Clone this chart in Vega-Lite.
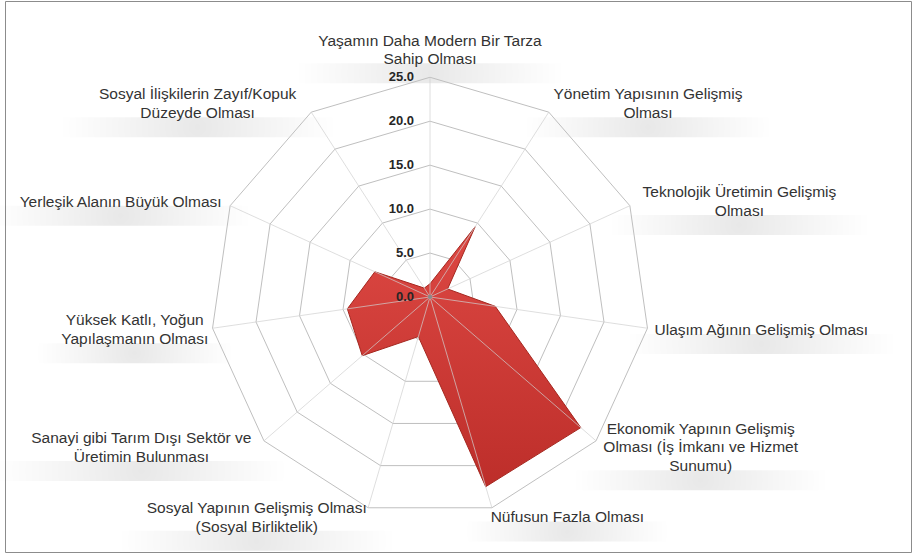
{
  "$schema": "https://vega.github.io/schema/vega-lite/v6.json",
  "width": 906,
  "height": 551,
  "autosize": {"type": "none"},
  "padding": {"left": 5, "top": 1, "right": 1, "bottom": 1},
  "background": "white",
  "view": {"stroke": "#8c8c8c", "strokeWidth": 1},
  "datasets": {
    "categories": [
      {"k": 0, "category": "Yaşamın Daha Modern Bir Tarza Sahip Olması", "lines": ["Yaşamın Daha Modern Bir Tarza", "Sahip Olması"], "value": 1.5},
      {"k": 1, "category": "Yönetim Yapısının Gelişmiş Olması", "lines": ["Yönetim Yapısının Gelişmiş", "Olması"], "value": 9.5},
      {"k": 2, "category": "Teknolojik Üretimin Gelişmiş Olması", "lines": ["Teknolojik Üretimin Gelişmiş", "Olması"], "value": 2.2},
      {"k": 3, "category": "Ulaşım Ağının Gelişmiş Olması", "lines": ["Ulaşım Ağının Gelişmiş Olması"], "value": 7.5},
      {"k": 4, "category": "Ekonomik Yapının Gelişmiş Olması (İş İmkanı ve Hizmet Sunumu)", "lines": ["Ekonomik Yapının Gelişmiş", "Olması (İş İmkanı ve Hizmet", "Sunumu)"], "value": 22.7},
      {"k": 5, "category": "Nüfusun Fazla Olması", "lines": ["Nüfusun Fazla Olması"], "value": 22.5},
      {"k": 6, "category": "Sosyal Yapının Gelişmiş Olması (Sosyal Birliktelik)", "lines": ["Sosyal Yapının Gelişmiş Olması", "(Sosyal Birliktelik)"], "value": 4.7},
      {"k": 7, "category": "Sanayi gibi Tarım Dışı Sektör ve Üretimin Bulunması", "lines": ["Sanayi gibi Tarım Dışı Sektör ve", "Üretimin Bulunması"], "value": 10.2},
      {"k": 8, "category": "Yüksek Katlı, Yoğun Yapılaşmanın Olması", "lines": ["Yüksek Katlı, Yoğun", "Yapılaşmanın Olması"], "value": 9.5},
      {"k": 9, "category": "Yerleşik Alanın Büyük Olması", "lines": ["Yerleşik Alanın Büyük Olması"], "value": 6.9},
      {"k": 10, "category": "Sosyal İlişkilerin Zayıf/Kopuk Düzeyde Olması", "lines": ["Sosyal İlişkilerin Zayıf/Kopuk", "Düzeyde Olması"], "value": 1.2}
    ],
    "rings": [
      {"level": 5, "k": 0}, {"level": 5, "k": 1}, {"level": 5, "k": 2}, {"level": 5, "k": 3}, {"level": 5, "k": 4}, {"level": 5, "k": 5}, {"level": 5, "k": 6}, {"level": 5, "k": 7}, {"level": 5, "k": 8}, {"level": 5, "k": 9}, {"level": 5, "k": 10},
      {"level": 10, "k": 0}, {"level": 10, "k": 1}, {"level": 10, "k": 2}, {"level": 10, "k": 3}, {"level": 10, "k": 4}, {"level": 10, "k": 5}, {"level": 10, "k": 6}, {"level": 10, "k": 7}, {"level": 10, "k": 8}, {"level": 10, "k": 9}, {"level": 10, "k": 10},
      {"level": 15, "k": 0}, {"level": 15, "k": 1}, {"level": 15, "k": 2}, {"level": 15, "k": 3}, {"level": 15, "k": 4}, {"level": 15, "k": 5}, {"level": 15, "k": 6}, {"level": 15, "k": 7}, {"level": 15, "k": 8}, {"level": 15, "k": 9}, {"level": 15, "k": 10},
      {"level": 20, "k": 0}, {"level": 20, "k": 1}, {"level": 20, "k": 2}, {"level": 20, "k": 3}, {"level": 20, "k": 4}, {"level": 20, "k": 5}, {"level": 20, "k": 6}, {"level": 20, "k": 7}, {"level": 20, "k": 8}, {"level": 20, "k": 9}, {"level": 20, "k": 10},
      {"level": 25, "k": 0}, {"level": 25, "k": 1}, {"level": 25, "k": 2}, {"level": 25, "k": 3}, {"level": 25, "k": 4}, {"level": 25, "k": 5}, {"level": 25, "k": 6}, {"level": 25, "k": 7}, {"level": 25, "k": 8}, {"level": 25, "k": 9}, {"level": 25, "k": 10}
    ],
    "ticks": [{"tick": 0}, {"tick": 5}, {"tick": 10}, {"tick": 15}, {"tick": 20}, {"tick": 25}]
  },
  "layer": [
    {
      "data": {"name": "categories"},
      "transform": [
        {"calculate": "datum.k * 2 * PI / 11", "as": "a"},
        {"calculate": "sin(datum.a)", "as": "s"},
        {"calculate": "cos(datum.a)", "as": "c"},
        {"calculate": "datum.s > 0.2 ? 1 : (datum.s < -0.2 ? -1 : 0)", "as": "side"},
        {"calculate": "length(datum.lines)", "as": "n"},
        {"calculate": "max(length(datum.lines[0]), datum.n > 1 ? length(datum.lines[1]) : 0, datum.n > 2 ? length(datum.lines[2]) : 0)", "as": "mx"},
        {"calculate": "datum.mx * 3.6", "as": "hw"},
        {"calculate": "25 * datum.s + datum.side * (1 + 8.5 * abs(datum.s) + datum.hw) / 8.788", "as": "lx"},
        {"calculate": "25 * datum.c + datum.c * (10 + (datum.side == 0 ? datum.n * 9.25 - 1 : 0)) / 8.788", "as": "cy"},
        {"calculate": "datum.cy - (datum.n * 9.25 + 5) / 8.788", "as": "sy"},
        {"calculate": "datum.lx - (datum.hw + 30) / 8.788", "as": "sx1"},
        {"calculate": "datum.lx + (datum.hw + 30) / 8.788", "as": "sx2"},
        {"calculate": "datum.sy - 10 / 8.788", "as": "sy1"},
        {"calculate": "datum.sy + 10 / 8.788", "as": "sy2"}
      ],
      "mark": {
        "type": "rect",
        "fill": {"gradient": "radial", "x1": 0.5, "y1": 0.5, "r1": 0, "x2": 0.5, "y2": 0.5, "r2": 0.5, "stops": [{"offset": 0, "color": "rgba(0,0,0,0.09)"}, {"offset": 0.55, "color": "rgba(0,0,0,0.04)"}, {"offset": 1, "color": "rgba(0,0,0,0)"}]}
      },
      "encoding": {
        "x": {"field": "sx1", "type": "quantitative", "scale": {"domain": [-48.36, 54.73], "nice": false, "zero": false}, "axis": null},
        "x2": {"field": "sx2"},
        "y": {"field": "sy1", "type": "quantitative", "scale": {"domain": [-29.02, 33.68], "nice": false, "zero": false}, "axis": null},
        "y2": {"field": "sy2"}
      }
    },
    {
      "data": {"name": "rings"},
      "transform": [
        {"calculate": "datum.k * 2 * PI / 11", "as": "a"},
        {"calculate": "datum.level * sin(datum.a)", "as": "x"},
        {"calculate": "datum.level * cos(datum.a)", "as": "y"}
      ],
      "mark": {"type": "line", "interpolate": "linear-closed", "stroke": "#bfbfbf", "strokeWidth": 1},
      "encoding": {
        "x": {"field": "x", "type": "quantitative", "axis": null},
        "y": {"field": "y", "type": "quantitative", "axis": null},
        "detail": {"field": "level", "type": "nominal"},
        "order": {"field": "k", "type": "quantitative"}
      }
    },
    {
      "data": {"name": "categories"},
      "transform": [
        {"calculate": "datum.k * 2 * PI / 11", "as": "a"},
        {"calculate": "datum.value * sin(datum.a)", "as": "x"},
        {"calculate": "datum.value * cos(datum.a)", "as": "y"}
      ],
      "mark": {
        "type": "line",
        "interpolate": "linear-closed",
        "fill": {"gradient": "linear", "x1": 0, "y1": 0, "x2": 0, "y2": 1, "stops": [{"offset": 0, "color": "#dd4843"}, {"offset": 1, "color": "#bd2e2a"}]},
        "stroke": "#a5271f",
        "strokeWidth": 1
      },
      "encoding": {
        "x": {"field": "x", "type": "quantitative", "axis": null},
        "y": {"field": "y", "type": "quantitative", "axis": null},
        "order": {"field": "k", "type": "quantitative"}
      }
    },
    {
      "data": {"name": "categories"},
      "transform": [
        {"calculate": "datum.k * 2 * PI / 11", "as": "a"},
        {"calculate": "0", "as": "x"},
        {"calculate": "0", "as": "y"},
        {"calculate": "25 * sin(datum.a)", "as": "x2"},
        {"calculate": "25 * cos(datum.a)", "as": "y2"}
      ],
      "mark": {"type": "rule", "stroke": "#d0d0d0", "strokeOpacity": 0.7, "strokeWidth": 1},
      "encoding": {
        "x": {"field": "x", "type": "quantitative", "axis": null},
        "y": {"field": "y", "type": "quantitative", "axis": null},
        "x2": {"field": "x2"},
        "y2": {"field": "y2"}
      }
    },
    {
      "data": {"name": "ticks"},
      "transform": [{"filter": "datum.tick == 0"}, {"calculate": "0", "as": "x"}],
      "mark": {"type": "point", "filled": true, "color": "#8a8a8a", "size": 18, "opacity": 1},
      "encoding": {
        "x": {"field": "x", "type": "quantitative", "axis": null},
        "y": {"field": "tick", "type": "quantitative", "axis": null}
      }
    },
    {
      "data": {"name": "ticks"},
      "transform": [{"calculate": "0", "as": "x"}],
      "mark": {"type": "text", "align": "right", "baseline": "middle", "dx": -16, "font": "Liberation Sans", "fontSize": 13, "fontWeight": "bold", "color": "#262626"},
      "encoding": {
        "x": {"field": "x", "type": "quantitative", "axis": null},
        "y": {"field": "tick", "type": "quantitative", "axis": null},
        "text": {"field": "tick", "type": "quantitative", "format": ".1f"}
      }
    },
    {
      "data": {"name": "categories"},
      "transform": [
        {"calculate": "datum.k * 2 * PI / 11", "as": "a"},
        {"calculate": "sin(datum.a)", "as": "s"},
        {"calculate": "cos(datum.a)", "as": "c"},
        {"calculate": "datum.s > 0.2 ? 1 : (datum.s < -0.2 ? -1 : 0)", "as": "side"},
        {"calculate": "length(datum.lines)", "as": "n"},
        {"calculate": "max(length(datum.lines[0]), datum.n > 1 ? length(datum.lines[1]) : 0, datum.n > 2 ? length(datum.lines[2]) : 0)", "as": "mx"},
        {"calculate": "datum.mx * 3.6", "as": "hw"},
        {"calculate": "25 * datum.s + datum.side * (1 + 8.5 * abs(datum.s) + datum.hw) / 8.788", "as": "lx"},
        {"calculate": "25 * datum.c + datum.c * (10 + (datum.side == 0 ? datum.n * 9.25 - 1 : 0)) / 8.788 + (datum.n - 1) * 9.25 / 8.788", "as": "ly"}
      ],
      "mark": {"type": "text", "align": "center", "baseline": "middle", "font": "Liberation Sans", "fontSize": 15.5, "lineHeight": 18.5, "color": "#333333"},
      "encoding": {
        "x": {"field": "lx", "type": "quantitative", "axis": null},
        "y": {"field": "ly", "type": "quantitative", "axis": null},
        "text": {"field": "lines", "type": "nominal"}
      }
    }
  ]
}
